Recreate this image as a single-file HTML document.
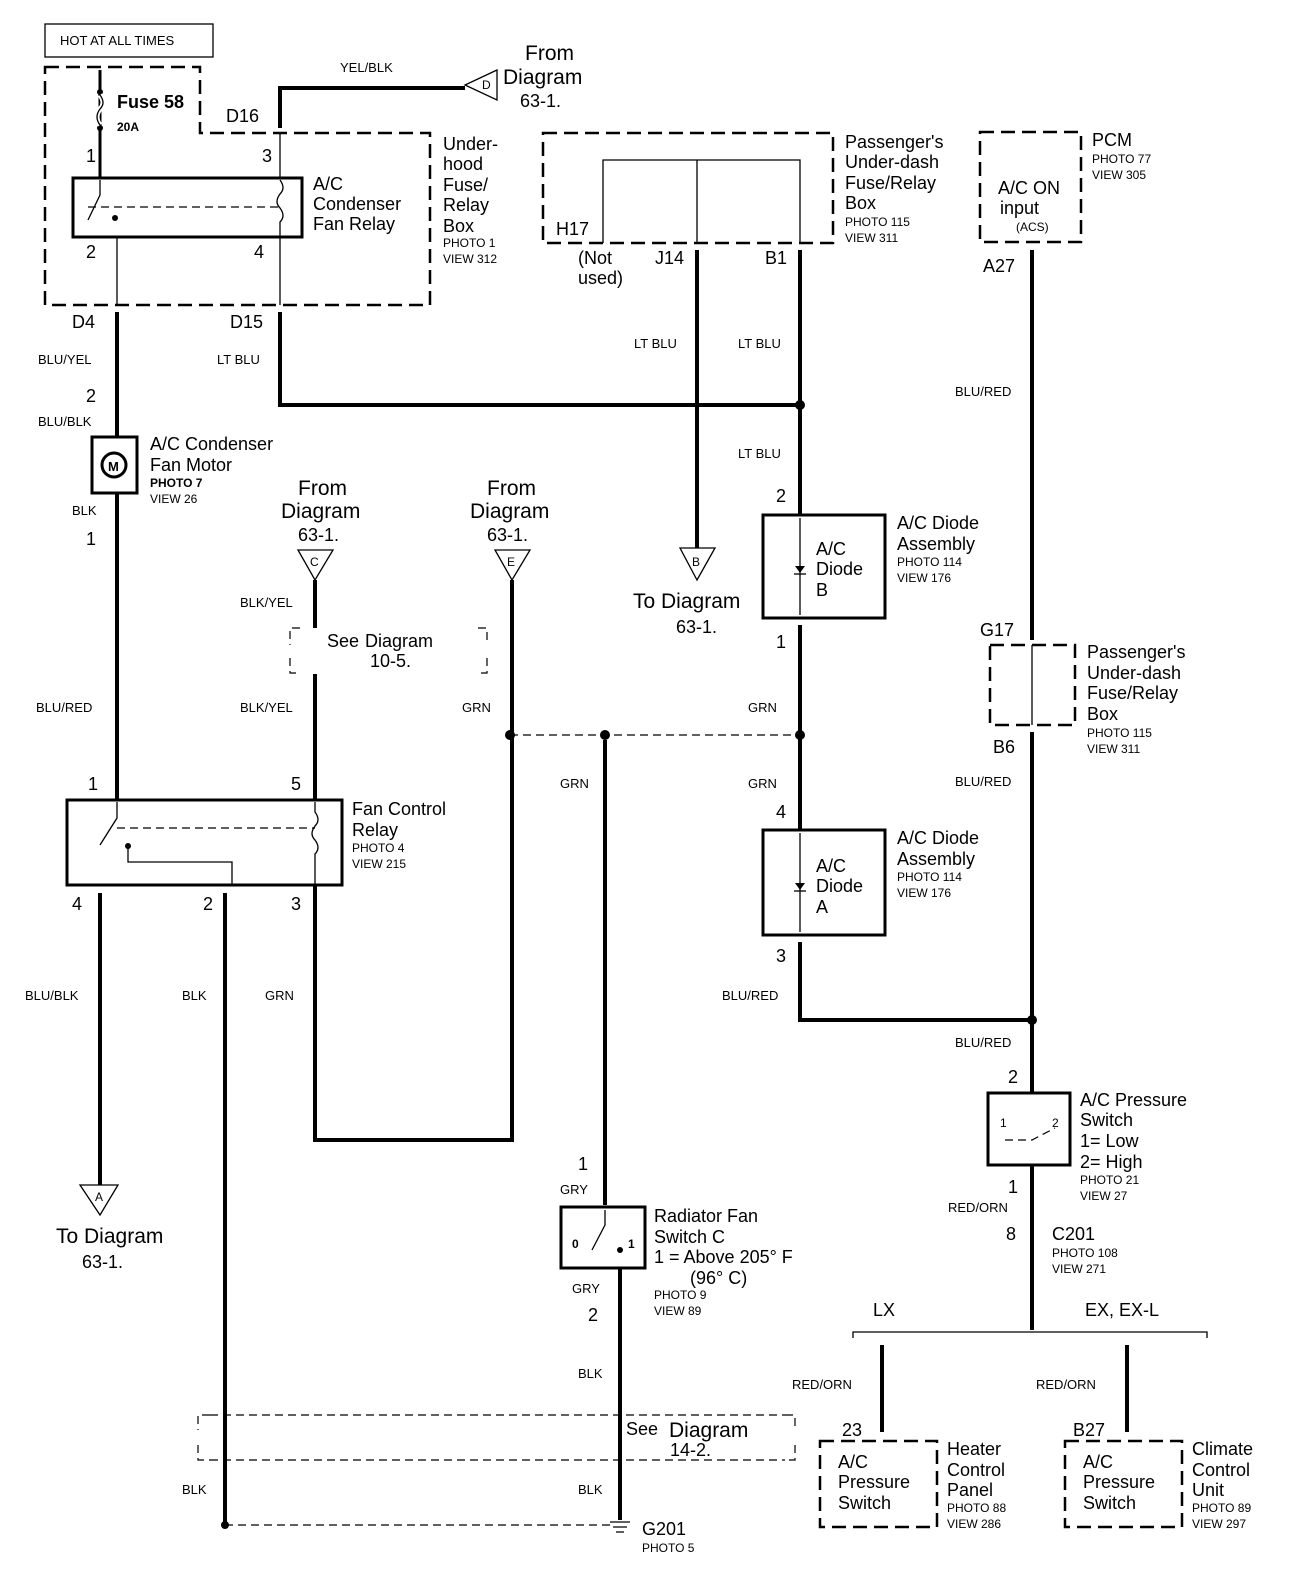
<!DOCTYPE html>
<html><head><meta charset="utf-8"><style>
html,body{margin:0;padding:0;background:#fff;}
svg{display:block;}
text{font-family:"Liberation Sans",sans-serif;fill:#000;}
.s{font-size:13px;}
.m{font-size:18px;}
.l{font-size:21px;}
.t{font-size:12px;}
.w{stroke:#000;stroke-width:4;fill:none;}
.n{stroke:#000;stroke-width:1.3;fill:none;}
.d{stroke:#000;stroke-width:2.5;fill:none;stroke-dasharray:14 7;}
.dt{stroke:#000;stroke-width:1.2;fill:none;stroke-dasharray:8 5;}
.b{stroke:#000;stroke-width:3;fill:none;}
</style></head><body>
<svg width="1312" height="1570" viewBox="0 0 1312 1570" xmlns="http://www.w3.org/2000/svg">
<!-- HOT AT ALL TIMES -->
<rect x="45" y="24" width="168" height="33" class="n" stroke-width="2"/>
<text x="60" y="45" class="s">HOT AT ALL TIMES</text>

<!-- underhood dashed box -->
<path d="M45 67 H200 V133 H430 V305 H45 Z" class="d"/>
<line x1="100" y1="70" x2="100" y2="178" class="b"/>
<circle cx="100" cy="92" r="3"/><circle cx="100" cy="128" r="3"/>
<path d="M100 95 q6 8 0 14 q-6 8 0 16" stroke="#fff" stroke-width="5" fill="none"/>
<path d="M100 95 q6 8 0 14 q-6 8 0 16" class="n" stroke-width="2"/>
<text x="117" y="108" class="m" font-weight="bold">Fuse 58</text>
<text x="117" y="131" class="t" font-weight="bold">20A</text>
<text x="86" y="162" class="m">1</text>
<text x="262" y="162" class="m">3</text>
<text x="226" y="122" class="m">D16</text>
<rect x="73" y="178" width="229" height="59" class="b"/>
<line x1="88" y1="207" x2="280" y2="207" class="dt"/>
<path d="M100 180 V195 L88 220" class="n" stroke-width="2"/>
<circle cx="115" cy="218" r="3"/>
<path d="M280 180 q6 8 0 14 q-6 8 0 14 q6 8 0 14 V237" class="n"/>
<text x="313" y="190" class="m">A/C</text>
<text x="313" y="210" class="m">Condenser</text>
<text x="313" y="230" class="m">Fan Relay</text>
<text x="443" y="150" class="m">Under-</text>
<text x="443" y="170" class="m">hood</text>
<text x="443" y="191" class="m">Fuse/</text>
<text x="443" y="211" class="m">Relay</text>
<text x="443" y="232" class="m">Box</text>
<text x="443" y="247" class="t">PHOTO 1</text>
<text x="443" y="263" class="t">VIEW 312</text>
<text x="86" y="258" class="m">2</text>
<text x="254" y="258" class="m">4</text>
<line x1="117" y1="237" x2="117" y2="305" class="n"/>
<line x1="280" y1="237" x2="280" y2="305" class="n"/>
<line x1="280" y1="133" x2="280" y2="178" class="n"/>

<!-- YEL/BLK & D -->
<path d="M280 128 V88 H465" class="w"/>
<text x="340" y="72" class="s">YEL/BLK</text>
<path d="M497 70 L465 85 L497 100 Z" class="n" stroke-width="1.5"/>
<text x="482" y="89" class="t">D</text>
<text x="525" y="60" class="l">From</text>
<text x="503" y="84" class="l">Diagram</text>
<text x="520" y="107" class="m">63-1.</text>

<!-- D4/D15 -->
<text x="72" y="328" class="m">D4</text>
<text x="230" y="328" class="m">D15</text>
<line x1="117" y1="312" x2="117" y2="437" class="w"/>
<path d="M280 312 V405 H800" class="w"/>
<text x="38" y="364" class="s">BLU/YEL</text>
<text x="217" y="364" class="s">LT BLU</text>
<text x="86" y="402" class="m">2</text>
<text x="38" y="426" class="s">BLU/BLK</text>
<rect x="92" y="437" width="45" height="56" class="b"/>
<circle cx="114" cy="465" r="12" class="b"/>
<text x="108" y="471" class="s" font-weight="bold">M</text>
<text x="150" y="450" class="m">A/C Condenser</text>
<text x="150" y="471" class="m">Fan Motor</text>
<text x="150" y="487" class="t" font-weight="bold">PHOTO 7</text>
<text x="150" y="503" class="t">VIEW 26</text>
<text x="72" y="515" class="s">BLK</text>
<line x1="117" y1="493" x2="117" y2="800" class="w"/>
<text x="86" y="545" class="m">1</text>
<text x="36" y="712" class="s">BLU/RED</text>

<!-- passenger underdash box -->
<rect x="543" y="133" width="290" height="110" class="d"/>
<path d="M603 243 V160 H800 V243 M697 160 V243" class="n"/>
<text x="556" y="235" class="m">H17</text>
<text x="578" y="264" class="m">(Not</text>
<text x="578" y="284" class="m">used)</text>
<text x="655" y="264" class="m">J14</text>
<text x="765" y="264" class="m">B1</text>
<text x="845" y="148" class="m">Passenger's</text>
<text x="845" y="168" class="m">Under-dash</text>
<text x="845" y="189" class="m">Fuse/Relay</text>
<text x="845" y="209" class="m">Box</text>
<text x="845" y="226" class="t">PHOTO 115</text>
<text x="845" y="242" class="t">VIEW 311</text>
<line x1="697" y1="250" x2="697" y2="548" class="w"/>
<line x1="800" y1="250" x2="800" y2="515" class="w"/>
<circle cx="800" cy="405" r="5"/>
<text x="634" y="348" class="s">LT BLU</text>
<text x="738" y="348" class="s">LT BLU</text>
<text x="738" y="458" class="s">LT BLU</text>
<path d="M680 548 L715 548 L697 580 Z" class="n" stroke-width="1.5"/>
<text x="692" y="566" class="t">B</text>
<text x="633" y="608" class="l">To Diagram</text>
<text x="676" y="633" class="m">63-1.</text>

<!-- Diode B -->
<text x="776" y="502" class="m">2</text>
<rect x="763" y="515" width="122" height="103" class="b"/>
<line x1="800" y1="518" x2="800" y2="615" class="n"/>
<path d="M795 566 L805 566 L800 573 Z"/><line x1="794" y1="574" x2="806" y2="574" class="n"/>
<text x="816" y="555" class="m">A/C</text>
<text x="816" y="575" class="m">Diode</text>
<text x="816" y="596" class="m">B</text>
<text x="897" y="529" class="m">A/C Diode</text>
<text x="897" y="550" class="m">Assembly</text>
<text x="897" y="566" class="t">PHOTO 114</text>
<text x="897" y="582" class="t">VIEW 176</text>
<text x="776" y="648" class="m">1</text>
<line x1="800" y1="625" x2="800" y2="830" class="w"/>
<text x="748" y="712" class="s">GRN</text>
<text x="748" y="788" class="s">GRN</text>
<text x="776" y="818" class="m">4</text>
<line x1="510" y1="735" x2="800" y2="735" class="dt"/>
<circle cx="800" cy="735" r="5"/><circle cx="510" cy="735" r="5"/><circle cx="605" cy="735" r="5"/>

<!-- Diode A -->
<rect x="763" y="830" width="122" height="105" class="b"/>
<line x1="800" y1="833" x2="800" y2="932" class="n"/>
<path d="M795 883 L805 883 L800 890 Z"/><line x1="794" y1="891" x2="806" y2="891" class="n"/>
<text x="816" y="872" class="m">A/C</text>
<text x="816" y="892" class="m">Diode</text>
<text x="816" y="913" class="m">A</text>
<text x="897" y="844" class="m">A/C Diode</text>
<text x="897" y="865" class="m">Assembly</text>
<text x="897" y="881" class="t">PHOTO 114</text>
<text x="897" y="897" class="t">VIEW 176</text>
<text x="776" y="962" class="m">3</text>
<path d="M800 942 V1020 H1032" class="w"/>
<text x="722" y="1000" class="s">BLU/RED</text>

<!-- PCM -->
<rect x="980" y="132" width="101" height="110" class="d"/>
<text x="998" y="194" class="m">A/C ON</text>
<text x="1000" y="214" class="m">input</text>
<text x="1016" y="231" class="t">(ACS)</text>
<text x="1092" y="146" class="m">PCM</text>
<text x="1092" y="163" class="t">PHOTO 77</text>
<text x="1092" y="179" class="t">VIEW 305</text>
<text x="983" y="272" class="m">A27</text>
<line x1="1032" y1="250" x2="1032" y2="640" class="w"/>
<text x="955" y="396" class="s">BLU/RED</text>
<text x="980" y="636" class="m">G17</text>
<rect x="990" y="645" width="85" height="80" class="d"/>
<line x1="1032" y1="645" x2="1032" y2="725" class="n"/>
<text x="1087" y="658" class="m">Passenger's</text>
<text x="1087" y="679" class="m">Under-dash</text>
<text x="1087" y="699" class="m">Fuse/Relay</text>
<text x="1087" y="720" class="m">Box</text>
<text x="1087" y="737" class="t">PHOTO 115</text>
<text x="1087" y="753" class="t">VIEW 311</text>
<text x="993" y="753" class="m">B6</text>
<line x1="1032" y1="732" x2="1032" y2="1093" class="w"/>
<circle cx="1032" cy="1020" r="5"/>
<text x="955" y="786" class="s">BLU/RED</text>
<text x="955" y="1047" class="s">BLU/RED</text>
<text x="1008" y="1083" class="m">2</text>

<!-- pressure switch -->
<rect x="988" y="1093" width="82" height="72" class="b"/>
<text x="1000" y="1127" class="t">1</text><text x="1052" y="1127" class="t">2</text>
<path d="M1005 1140 L1032 1140 L1055 1128" class="dt"/>
<text x="1080" y="1106" class="m">A/C Pressure</text>
<text x="1080" y="1126" class="m">Switch</text>
<text x="1080" y="1147" class="m">1= Low</text>
<text x="1080" y="1168" class="m">2= High</text>
<text x="1080" y="1184" class="t">PHOTO 21</text>
<text x="1080" y="1200" class="t">VIEW 27</text>
<text x="1008" y="1193" class="m">1</text>
<text x="948" y="1212" class="s">RED/ORN</text>
<text x="1006" y="1240" class="m">8</text>
<text x="1052" y="1240" class="m">C201</text>
<text x="1052" y="1257" class="t">PHOTO 108</text>
<text x="1052" y="1273" class="t">VIEW 271</text>
<line x1="1032" y1="1165" x2="1032" y2="1330" class="w"/>
<path d="M853 1338 V1332 H1207 V1338" class="n" stroke-width="2"/>
<text x="873" y="1316" class="m">LX</text>
<text x="1085" y="1316" class="m">EX, EX-L</text>
<line x1="882" y1="1345" x2="882" y2="1432" class="w"/>
<line x1="1127" y1="1345" x2="1127" y2="1432" class="w"/>
<text x="792" y="1389" class="s">RED/ORN</text>
<text x="1036" y="1389" class="s">RED/ORN</text>
<text x="842" y="1436" class="m">23</text>
<text x="1073" y="1436" class="m">B27</text>
<rect x="820" y="1441" width="117" height="86" class="d"/>
<rect x="1065" y="1441" width="117" height="86" class="d"/>
<text x="838" y="1468" class="m">A/C</text><text x="838" y="1488" class="m">Pressure</text><text x="838" y="1509" class="m">Switch</text>
<text x="1083" y="1468" class="m">A/C</text><text x="1083" y="1488" class="m">Pressure</text><text x="1083" y="1509" class="m">Switch</text>
<text x="947" y="1455" class="m">Heater</text><text x="947" y="1476" class="m">Control</text><text x="947" y="1496" class="m">Panel</text>
<text x="947" y="1512" class="t">PHOTO 88</text><text x="947" y="1528" class="t">VIEW 286</text>
<text x="1192" y="1455" class="m">Climate</text><text x="1192" y="1476" class="m">Control</text><text x="1192" y="1496" class="m">Unit</text>
<text x="1192" y="1512" class="t">PHOTO 89</text><text x="1192" y="1528" class="t">VIEW 297</text>

<!-- From diagrams C, E -->
<text x="298" y="495" class="l">From</text>
<text x="281" y="518" class="l">Diagram</text>
<text x="298" y="541" class="m">63-1.</text>
<text x="487" y="495" class="l">From</text>
<text x="470" y="518" class="l">Diagram</text>
<text x="487" y="541" class="m">63-1.</text>
<path d="M298 550 L333 550 L315 580 Z" class="n" stroke-width="1.5"/>
<text x="310" y="566" class="t">C</text>
<path d="M495 550 L530 550 L512 580 Z" class="n" stroke-width="1.5"/>
<text x="507" y="566" class="t">E</text>
<line x1="315" y1="580" x2="315" y2="800" class="w"/>
<path d="M512 580 V1140 H315 V885" class="w"/>
<text x="240" y="607" class="s">BLK/YEL</text>
<text x="240" y="712" class="s">BLK/YEL</text>
<text x="462" y="712" class="s">GRN</text>
<path d="M300 628 H290 V645 M290 658 V673 H300 M478 628 H487 V645 M487 658 V673 H478" class="dt"/>
<rect x="305" y="628" width="160" height="46" fill="#fff"/>
<text x="327" y="647" class="m">See</text><text x="365" y="647" class="m">Diagram</text>
<text x="370" y="667" class="m">10-5.</text>

<!-- Fan control relay -->
<text x="88" y="790" class="m">1</text>
<text x="291" y="790" class="m">5</text>
<rect x="67" y="800" width="275" height="85" class="b"/>
<line x1="117" y1="828" x2="315" y2="828" class="dt"/>
<path d="M117 802 V818 L100 845" class="n" stroke-width="2"/>
<circle cx="128" cy="846" r="3"/>
<path d="M128 846 V862 H232 V885" class="n" stroke-width="2"/>
<path d="M315 802 V812 q6 8 0 14 q-6 8 0 14 q6 8 0 14 V885" class="n"/>
<text x="352" y="815" class="m">Fan Control</text>
<text x="352" y="836" class="m">Relay</text>
<text x="352" y="852" class="t">PHOTO 4</text>
<text x="352" y="868" class="t">VIEW 215</text>
<text x="72" y="910" class="m">4</text>
<text x="203" y="910" class="m">2</text>
<text x="291" y="910" class="m">3</text>
<line x1="100" y1="893" x2="100" y2="1185" class="w"/>
<line x1="225" y1="893" x2="225" y2="1525" class="w"/>
<line x1="315" y1="893" x2="315" y2="1140" class="w"/>
<text x="25" y="1000" class="s">BLU/BLK</text>
<text x="182" y="1000" class="s">BLK</text>
<text x="265" y="1000" class="s">GRN</text>
<path d="M80 1185 L118 1185 L100 1215 Z" class="n" stroke-width="1.5"/>
<text x="95" y="1201" class="t">A</text>
<text x="56" y="1243" class="l">To Diagram</text>
<text x="82" y="1268" class="m">63-1.</text>

<!-- GRN to radiator switch -->
<line x1="605" y1="740" x2="605" y2="1205" class="w"/>
<text x="560" y="788" class="s">GRN</text>
<text x="578" y="1170" class="m">1</text>
<text x="560" y="1194" class="s">GRY</text>
<rect x="561" y="1207" width="84" height="61" class="b"/>
<path d="M605 1210 L605 1225 L592 1250" class="n" stroke-width="2"/>
<circle cx="620" cy="1250" r="3"/>
<text x="572" y="1248" class="t" font-weight="bold">0</text>
<text x="628" y="1248" class="t" font-weight="bold">1</text>
<text x="654" y="1222" class="m">Radiator Fan</text>
<text x="654" y="1243" class="m">Switch C</text>
<text x="654" y="1263" class="m">1 = Above 205° F</text>
<text x="690" y="1284" class="m">(96° C)</text>
<text x="654" y="1299" class="t">PHOTO 9</text>
<text x="654" y="1315" class="t">VIEW 89</text>
<text x="572" y="1293" class="s">GRY</text>
<text x="588" y="1321" class="m">2</text>
<line x1="620" y1="1268" x2="620" y2="1520" class="w"/>
<text x="578" y="1378" class="s">BLK</text>
<text x="578" y="1494" class="s">BLK</text>
<text x="182" y="1494" class="s">BLK</text>
<path d="M210 1415 H198 V1430 M198 1445 V1460 H210 M785 1415 H795 V1430 M795 1445 V1460 H785" class="dt"/>
<line x1="210" y1="1415" x2="785" y2="1415" class="dt"/>
<line x1="210" y1="1460" x2="785" y2="1460" class="dt"/>
<rect x="624" y="1417" width="150" height="41" fill="#fff"/>
<text x="626" y="1435" class="m">See</text><text x="669" y="1437" class="l">Diagram</text>
<text x="670" y="1456" class="m">14-2.</text>
<line x1="225" y1="1525" x2="612" y2="1525" class="dt"/>
<circle cx="225" cy="1525" r="4"/>
<path d="M610 1522 H630 M613 1527 H627 M616 1532 H624" class="n" stroke-width="2"/>
<text x="642" y="1535" class="m">G201</text>
<text x="642" y="1552" class="t">PHOTO 5</text>
</svg>
</body></html>
